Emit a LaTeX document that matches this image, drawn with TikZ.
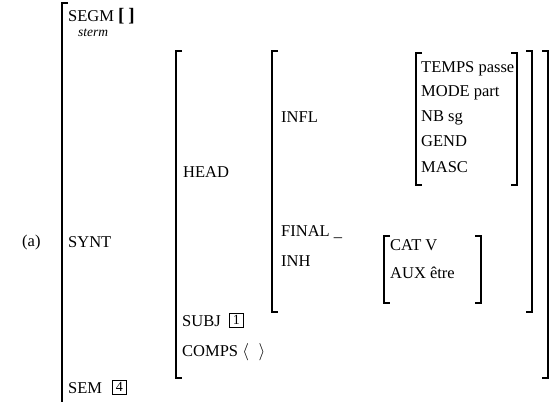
\documentclass[tikz,border=0pt]{standalone}
\usepackage{fontspec}
\setmainfont{Liberation Serif}
\begin{document}
\begin{tikzpicture}[x=1pt,y=-1pt,
  lbl/.style={inner sep=0pt, anchor=base west, font=\fontsize{16.5}{18}\selectfont},
  tag/.style={draw, line width=0.9pt, inner sep=1.5pt, minimum size=14pt, font=\fontsize{14}{14}\selectfont},
  brk/.style={line width=1.3pt}]
\useasboundingbox (0,0) rectangle (558,402);
% brackets
\draw[brk] (68,3) -- (62,3) -- (62,402);
\draw[brk] (182,51) -- (176,51) -- (176,378) -- (182,378);
\draw[brk] (542,51) -- (548,51) -- (548,378) -- (542,378);
\draw[brk] (278,51) -- (272,51) -- (272,312) -- (278,312);
\draw[brk] (526,51) -- (532,51) -- (532,312) -- (526,312);
\draw[brk] (422,53) -- (416,53) -- (416,185) -- (422,185);
\draw[brk] (511,53) -- (517,53) -- (517,185) -- (511,185);
\draw[brk] (390,236) -- (384,236) -- (384,303) -- (390,303);
\draw[brk] (475,236) -- (481,236) -- (481,303) -- (475,303);
% labels
\node[lbl] (segm) at (68,21) {SEGM \textbf{\fontsize{19}{19}\selectfont[\kern4pt]}};
\node[lbl, font=\fontsize{13.5}{14}\itshape] (sterm) at (78,36) {sterm};
\node[lbl] (a) at (22,246) {(a)};
\node[lbl] (synt) at (68,247) {SYNT};
\node[lbl] (sem) at (68,393) {SEM};
\node[tag, anchor=west] (t4) at (112,387) {4};
\node[lbl] (head) at (183,177) {HEAD};
\node[lbl] (infl) at (281,122) {INFL};
\node[lbl] (final) at (281,236) {FINAL \_};
\node[lbl] (inh) at (281,266) {INH};
\node[lbl] (subj) at (182,326) {SUBJ};
\node[tag, anchor=west] (t1) at (229,320) {1};
\node[lbl] (comps) at (182,356) {COMPS $\big\langle\;\;\big\rangle$};
\node[lbl] (temps) at (421,72) {TEMPS passe};
\node[lbl] (mode) at (421,96) {MODE part};
\node[lbl] (nb) at (421,121) {NB sg};
\node[lbl] (gend) at (421,146) {GEND};
\node[lbl] (masc) at (421,172) {MASC};
\node[lbl] (cat) at (390,250) {CAT V};
\node[lbl] (aux) at (390,278) {AUX être};
\end{tikzpicture}
\end{document}
